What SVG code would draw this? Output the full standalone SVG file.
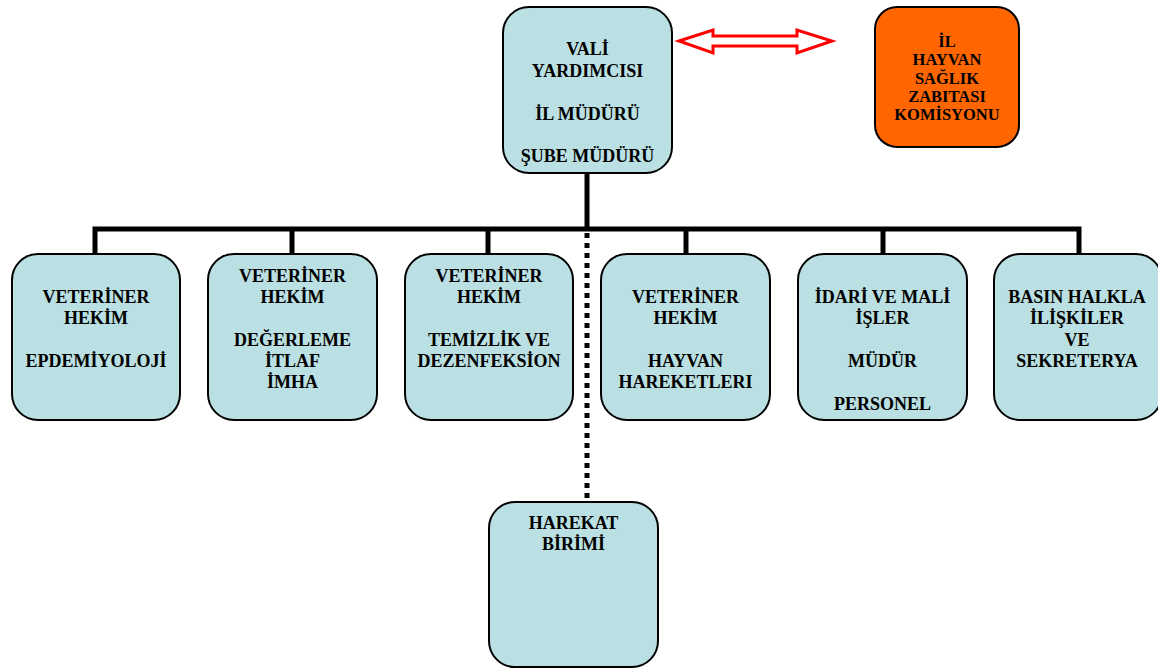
<svg xmlns="http://www.w3.org/2000/svg" width="1158" height="668" viewBox="0 0 1158 668">
<style>
.box{fill:#BBE0E3;stroke:#000;stroke-width:2}
.orange{fill:#FF6600;stroke:#000;stroke-width:2}
text{font-family:'Liberation Serif','Times New Roman',Times,'DejaVu Serif',serif;font-weight:bold;text-anchor:middle;fill:#000}
.t{font-size:18px}
.s{font-size:16.5px}
.ln{stroke:#000;stroke-width:5;fill:none}
.dot{stroke:#000;stroke-width:5;fill:none;stroke-dasharray:5 5}
</style>
<rect width="1158" height="668" fill="#fff"/>
<g id="connectors">
<line class="ln" x1="587" y1="172" x2="587" y2="229"/>
<polyline class="ln" points="95,254 95,229 1079,229 1079,254"/>
<line class="ln" x1="292" y1="229" x2="292" y2="254"/>
<line class="ln" x1="488" y1="229" x2="488" y2="254"/>
<line class="ln" x1="686" y1="229" x2="686" y2="254"/>
<line class="ln" x1="883" y1="229" x2="883" y2="254"/>
<line class="dot" x1="587" y1="233" x2="587" y2="500"/>
<polygon points="679,41 713,30 713,36 797,36 797,30 832,41 797,53 797,46 713,46 713,53" fill="#fff" stroke="#FF0000" stroke-width="3" stroke-linejoin="miter"/>
</g>
<g id="top">
<rect class="box" x="503" y="7" width="169" height="166" rx="26"/>
<text class="t" x="587.5" y="55">VALİ</text>
<text class="t" x="587.5" y="77">YARDIMCISI</text>
<text class="t" x="587.5" y="120">İL MÜDÜRÜ</text>
<text class="t" x="587.5" y="162">ŞUBE MÜDÜRÜ</text>
</g>
<g id="komisyon">
<rect class="orange" x="875" y="7" width="144" height="140" rx="22"/>
<text class="s" x="947" y="47">İL</text>
<text class="s" x="947" y="65">HAYVAN</text>
<text class="s" x="947" y="84">SAĞLIK</text>
<text class="s" x="947" y="102">ZABITASI</text>
<text class="s" x="947" y="120">KOMİSYONU</text>
</g>
<g id="n1">
<rect class="box" x="12" y="254" width="168" height="166" rx="26"/>
<text class="t" x="96" y="303">VETERİNER</text>
<text class="t" x="96" y="324">HEKİM</text>
<text class="t" x="96" y="367">EPDEMİYOLOJİ</text>
</g>
<g id="n2">
<rect class="box" x="208" y="254" width="169" height="166" rx="26"/>
<text class="t" x="292.5" y="282">VETERİNER</text>
<text class="t" x="292.5" y="303">HEKİM</text>
<text class="t" x="292.5" y="346">DEĞERLEME</text>
<text class="t" x="292.5" y="367">İTLAF</text>
<text class="t" x="292.5" y="388">İMHA</text>
</g>
<g id="n3">
<rect class="box" x="405" y="254" width="168" height="166" rx="26"/>
<text class="t" x="489" y="282">VETERİNER</text>
<text class="t" x="489" y="303">HEKİM</text>
<text class="t" x="489" y="346">TEMİZLİK VE</text>
<text class="t" x="489" y="367">DEZENFEKSİON</text>
</g>
<g id="n4">
<rect class="box" x="601" y="254" width="169" height="166" rx="26"/>
<text class="t" x="685.5" y="303">VETERİNER</text>
<text class="t" x="685.5" y="324">HEKİM</text>
<text class="t" x="685.5" y="367">HAYVAN</text>
<text class="t" x="685.5" y="388">HAREKETLERI</text>
</g>
<g id="n5">
<rect class="box" x="798" y="254" width="169" height="166" rx="26"/>
<text class="t" x="882.5" y="303">İDARİ VE MALİ</text>
<text class="t" x="882.5" y="324">İŞLER</text>
<text class="t" x="882.5" y="367">MÜDÜR</text>
<text class="t" x="882.5" y="410">PERSONEL</text>
</g>
<g id="n6">
<rect class="box" x="994" y="254" width="168" height="166" rx="26"/>
<text class="t" x="1077" y="303">BASIN HALKLA</text>
<text class="t" x="1077" y="324">İLİŞKİLER</text>
<text class="t" x="1077" y="346">VE</text>
<text class="t" x="1077" y="367">SEKRETERYA</text>
</g>
<g id="harekat">
<rect class="box" x="489" y="502" width="169" height="165" rx="26"/>
<text class="t" x="573.5" y="529">HAREKAT</text>
<text class="t" x="573.5" y="550">BİRİMİ</text>
</g>
</svg>
